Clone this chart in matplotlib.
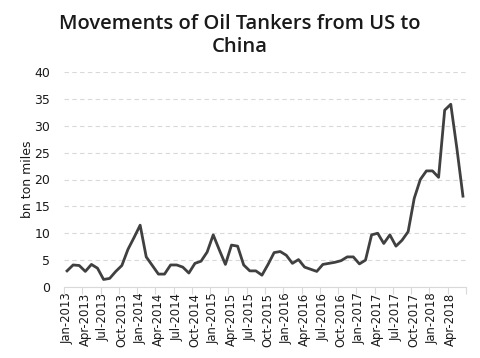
import matplotlib
matplotlib.use("Agg")
import matplotlib.pyplot as plt
import numpy as np

months = ["Jan", "Feb", "Mar", "Apr", "May", "Jun", "Jul", "Aug", "Sep", "Oct", "Nov", "Dec"]
categories = [f"{m}-{y}" for y in range(2013, 2019) for m in months][:66]

values = [
    3.0, 4.1, 4.0, 2.9, 4.2, 3.5, 1.4, 1.6, 2.9, 4.0, 7.0, 9.2,
    11.5, 5.6, 4.0, 2.4, 2.4, 4.1, 4.1, 3.7, 2.6, 4.4, 4.8, 6.5,
    9.7, 6.9, 4.2, 7.8, 7.6, 4.1, 3.0, 3.0, 2.2, 4.2, 6.4, 6.6,
    5.9, 4.4, 5.1, 3.7, 3.3, 2.9, 4.2, 4.4, 4.6, 4.9, 5.6, 5.6,
    4.3, 5.0, 9.7, 10.0, 8.1, 9.7, 7.6, 8.7, 10.3, 16.5, 20.0, 21.6,
    21.6, 20.4, 32.9, 34.0, 25.8, 16.9,
]
yticks = [0, 5, 10, 15, 20, 25, 30, 35, 40]
title = "Movements of Oil Tankers from US to\nChina"
ylabel = "bn ton miles"

plt.rcParams['font.family'] = ['DejaVu Sans']
fig = plt.figure(figsize=(4.8, 3.58), dpi=100)
ax = fig.add_axes([64/480, 71/358, 402/480, 215/358])

x = np.arange(len(values))
ax.plot(x, values, color="#404040", linewidth=2.0, solid_joinstyle="round")

ax.set_xlim(-0.5, len(values) - 0.5)
ax.set_ylim(0, 40)
ax.set_yticks(yticks)
ax.set_yticklabels([str(v) for v in yticks], fontsize=9, color="#1a1a1a")
ax.yaxis.grid(True, linestyle=(0, (4, 3)), color="#d9d9d9", linewidth=0.8)
ax.set_axisbelow(True)
ax.tick_params(axis="y", length=0, pad=10)

major = x[::3]
ax.set_xticks(major)
ax.set_xticklabels([categories[i] for i in major], rotation=90, fontsize=8.4, color="#1a1a1a")
ax.tick_params(axis="x", which="major", length=0, pad=4)
ax.set_xticks(np.arange(-0.5, len(values), 3), minor=True)
ax.tick_params(axis="x", which="minor", length=5, color="#d9d9d9", width=0.8)

for s in ["top", "right", "left"]:
    ax.spines[s].set_visible(False)
ax.spines["bottom"].set_color("#d9d9d9")
ax.spines["bottom"].set_linewidth(0.8)

ax.set_ylabel(ylabel, fontsize=9, color="#1a1a1a", labelpad=0)

fig.text(0.5, 0.96, title, ha="center", va="top", fontsize=14.5,
         fontweight="semibold", family=["Open Sans", "DejaVu Sans"],
         color="#1a1a1a", linespacing=1.15)

fig.savefig("out.png", dpi=100)
